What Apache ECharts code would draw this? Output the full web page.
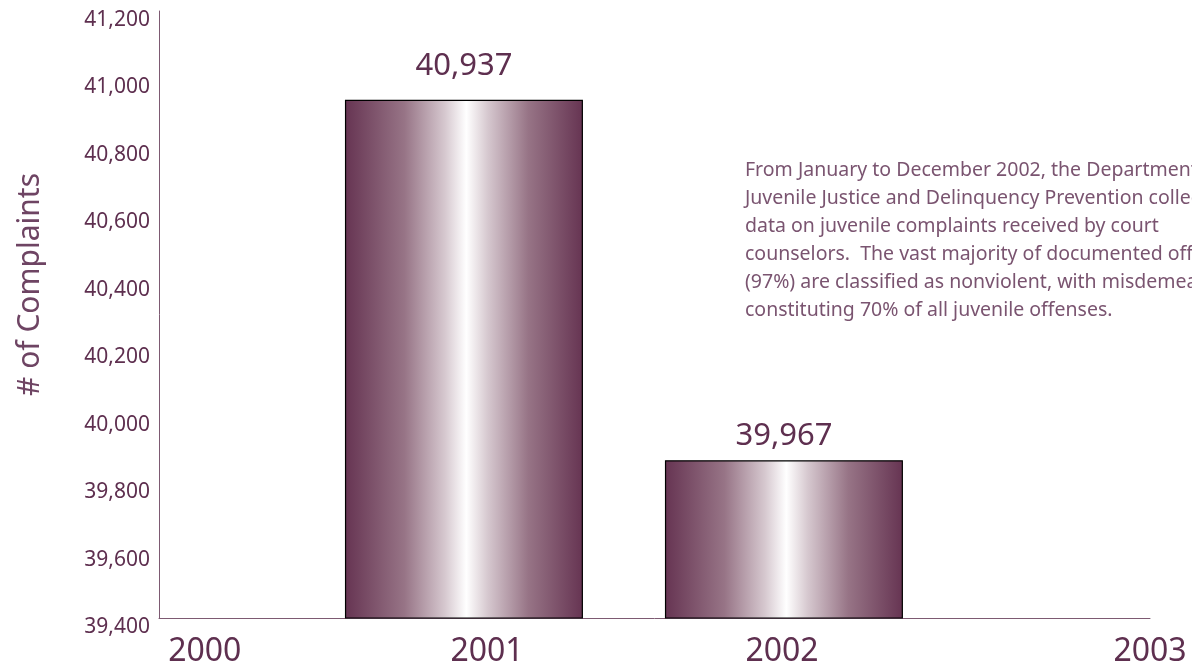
<!DOCTYPE html>
<html>
<head>
<meta charset="utf-8">
<script src="https://cdn.jsdelivr.net/npm/echarts@6/dist/echarts.min.js"></script>
<style>html,body{margin:0;padding:0;background:#fff}#c{width:1192px;height:668px}</style>
</head>
<body>
<div id="c"></div>
<script>
// Data
var years = [2001, 2002];
var complaints = [40937, 39868];           // bar heights as drawn
var valueLabels = ['40,937', '39,967'];    // printed labels
var axisYears = ['2000', '2001', '2002', '2003'];
var yTicks = [39400, 39600, 39800, 40000, 40200, 40400, 40600, 40800, 41000, 41200];
var note = [
  'From January to December 2002, the Department of',
  'Juvenile Justice and Delinquency Prevention collected',
  'data on juvenile complaints received by court',
  'counselors.  The vast majority of documented offenses',
  '(97%) are classified as nonviolent, with misdemeanors',
  'constituting 70% of all juvenile offenses.'
];

var chart = echarts.init(document.getElementById('c'));
var labelSpots = [2000.19, 2001.072, 2001.994, 2003.144];
var labelGaps = [18, 9];
var barColor = new echarts.graphic.LinearGradient(0, 0, 1, 0, [
  {offset: 0, color: '#663452'},
  {offset: 0.25, color: '#977486'},
  {offset: 0.42, color: '#d6c8cf'},
  {offset: 0.51, color: '#ffffff'},
  {offset: 0.6, color: '#d6c8cf'},
  {offset: 0.77, color: '#977486'},
  {offset: 1, color: '#663452'}
]);
var fmt = function (v) { return v.toLocaleString('en-US'); };

chart.setOption({
  animation: false,
  grid: {left: 159, right: 42, top: 11, bottom: 49},
  xAxis: {
    type: 'value',
    min: 2000.047, max: 2003.144,
    splitLine: {show: false},
    axisTick: {show: false},
    axisLine: {show: true, lineStyle: {color: '#7d5a72', width: 1}},
    axisLabel: {
      customValues: labelSpots,
      showMinLabel: true, showMaxLabel: true,
      color: '#5e2f4f', fontSize: 32, fontFamily: 'Noto Sans', margin: 18,
      formatter: function (v) { return axisYears[labelSpots.indexOf(v)] || String(Math.round(v)); }
    }
  },
  yAxis: {
    type: 'value',
    min: yTicks[0], max: yTicks[yTicks.length - 1], interval: 200,
    name: '# of Complaints',
    nameLocation: 'middle', nameGap: 114, nameRotate: 90,
    nameTextStyle: {color: '#6e4463', fontSize: 30, fontFamily: 'Noto Sans', padding: [0, 0, 0, 60]},
    splitLine: {show: false},
    axisTick: {show: false},
    axisLine: {show: true, lineStyle: {color: '#7d5a72', width: 1}},
    axisLabel: {
      color: '#5e2f4f', fontSize: 21, fontFamily: 'Noto Sans', margin: 9,
      verticalAlign: 'top', lineHeight: 18,
      formatter: fmt
    }
  },
  series: [{
    type: 'bar',
    barWidth: 238,
    data: years.map(function (y, i) {
      return {value: [y, complaints[i]], label: {distance: labelGaps[i]}};
    }),
    itemStyle: {color: barColor, borderColor: '#000', borderWidth: 1.2},
    label: {
      show: true, position: 'top',
      color: '#5e2f4f', fontSize: 31, fontFamily: 'Noto Sans',
      formatter: function (p) { return valueLabels[p.dataIndex]; }
    }
  }],
  graphic: [{
    type: 'text', left: 745, top: 156,
    style: {
      text: note.join('\n'),
      fill: '#7a5470', fontSize: 19.5, fontFamily: 'Noto Sans', lineHeight: 28
    }
  }]
});
</script>
</body>
</html>
